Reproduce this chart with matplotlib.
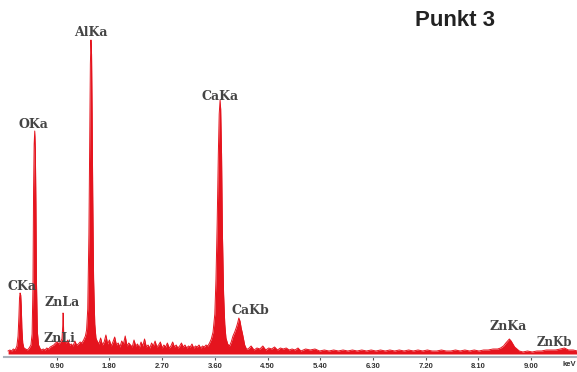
import numpy as np
import matplotlib.pyplot as plt

# EDS spectrum, Punkt 3 -- counts (arbitrary units)
# low energy: C K-alpha and O K-alpha
e_co = [0.07, 0.10, 0.13, 0.16, 0.19, 0.22, 0.24, 0.255, 0.265, 0.275, 0.285, 0.295,
        0.305, 0.32, 0.34, 0.37, 0.40, 0.43, 0.46, 0.48, 0.495, 0.505, 0.515, 0.525,
        0.535, 0.545, 0.555, 0.57, 0.59, 0.62]
n_co = [3, 4, 3, 5, 4, 8, 18, 38, 56, 61, 59, 48,
        26, 11, 6, 5, 4, 6, 9, 20, 70, 165, 210, 223,
        205, 150, 70, 22, 9, 5]

# Zn L lines and background up to Al
e_znl = [0.64, 0.67, 0.70, 0.73, 0.76, 0.79, 0.82, 0.85, 0.88, 0.91, 0.94, 0.97,
         0.99, 1.003, 1.008, 1.013, 1.018, 1.03, 1.06, 1.09, 1.12, 1.15, 1.18, 1.21,
         1.24, 1.27, 1.30, 1.33, 1.36, 1.39]
n_znl = [4, 5, 4, 6, 5, 7, 8, 9, 11, 12, 10, 13,
         15, 28, 41, 40, 22, 13, 11, 14, 9, 10, 8, 13,
         9, 10, 12, 11, 14, 18]

# Al K-alpha
e_al = [1.41, 1.43, 1.45, 1.465, 1.475, 1.485, 1.495, 1.505, 1.515, 1.53, 1.55, 1.57]
n_al = [24, 45, 120, 225, 290, 314, 300, 240, 160, 75, 30, 16]

# background between Al and Ca
e_bg1 = [1.59, 1.62, 1.65, 1.68, 1.71, 1.74, 1.77, 1.80, 1.83, 1.86, 1.89, 1.92,
         1.95, 1.98, 2.01, 2.04, 2.07, 2.10, 2.13, 2.16, 2.19, 2.22, 2.25, 2.28,
         2.31, 2.34, 2.37, 2.40, 2.43, 2.46, 2.49, 2.52, 2.55, 2.58, 2.61, 2.64,
         2.67, 2.70, 2.73, 2.76, 2.79, 2.82, 2.85, 2.88, 2.91, 2.94, 2.97, 3.00,
         3.03, 3.06, 3.09, 3.12, 3.15, 3.18, 3.21, 3.24, 3.27, 3.30, 3.33, 3.36,
         3.39, 3.42, 3.45, 3.48, 3.51, 3.54]
n_bg1 = [13, 10, 16, 9, 12, 19, 10, 14, 8, 12, 17, 9,
         11, 7, 13, 10, 18, 8, 11, 9, 7, 14, 8, 10,
         6, 12, 8, 15, 7, 9, 6, 11, 8, 13, 7, 9,
         12, 6, 9, 7, 11, 6, 8, 12, 7, 9, 6, 8,
         11, 7, 9, 6, 8, 7, 10, 6, 8, 7, 9, 6,
         8, 7, 9, 8, 11, 15]

# Ca K-alpha and K-beta
e_ca = [3.57, 3.60, 3.62, 3.64, 3.66, 3.675, 3.69, 3.70, 3.715, 3.73, 3.75, 3.77,
        3.79, 3.82, 3.85, 3.88, 3.91, 3.94, 3.97, 3.99, 4.01, 4.03, 4.05, 4.07,
        4.09, 4.11, 4.14]
n_ca = [22, 40, 75, 130, 200, 240, 254, 245, 200, 120, 60, 30,
        16, 10, 8, 12, 18, 22, 27, 31, 36, 33, 26, 21,
        15, 9, 5]

# background up to Zn K
e_bg2 = [4.17, 4.22, 4.27, 4.32, 4.37, 4.42, 4.47, 4.52, 4.57, 4.62, 4.67, 4.72,
         4.77, 4.82, 4.87, 4.92, 4.97, 5.02, 5.07, 5.15, 5.23, 5.31, 5.39, 5.47,
         5.55, 5.63, 5.71, 5.79, 5.87, 5.95, 6.03, 6.11, 6.19, 6.27, 6.35, 6.43,
         6.51, 6.59, 6.67, 6.75, 6.83, 6.91, 6.99, 7.07, 7.15, 7.23, 7.31, 7.39,
         7.47, 7.55, 7.63, 7.71, 7.79, 7.87, 7.95, 8.03, 8.11, 8.19, 8.27, 8.35, 8.43]
n_bg2 = [5, 8, 4, 6, 5, 8, 4, 6, 5, 7, 4, 6,
         5, 6, 4, 5, 4, 6, 3, 5, 4, 5, 3, 4,
         3, 4, 3, 4, 3, 4, 3, 4, 3, 4, 3, 4,
         3, 4, 3, 4, 3, 4, 3, 4, 3, 4, 3, 3,
         4, 3, 3, 4, 3, 4, 3, 4, 3, 4, 4, 5, 5]

# Zn K-alpha / K-beta
e_znk = [8.48, 8.53, 8.57, 8.60, 8.63, 8.66, 8.69, 8.72, 8.76, 8.80, 8.86, 8.94,
         9.02, 9.10, 9.18, 9.26, 9.34, 9.42, 9.50, 9.57, 9.64, 9.72, 9.79]
n_znk = [6, 8, 11, 13, 15, 13, 10, 7, 5, 3, 2, 3,
         2, 3, 3, 4, 4, 4, 5, 6, 4, 4, 3]

tick_kev = [0.90, 1.80, 2.70, 3.60, 4.50, 5.40, 6.30, 7.20, 8.10, 9.00]

# (text, energy, counts) for the line labels
line_labels = [("AlKa", 1.486, 321), ("OKa", 0.51, 230), ("CaKa", 3.69, 258),
               ("CKa", 0.31, 67), ("ZnLa", 0.99, 52), ("ZnLi", 0.94, 16),
               ("CaKb", 4.21, 44), ("ZnKa", 8.61, 27)]

energy = np.concatenate([e_co, e_znl, e_al, e_bg1, e_ca, e_bg2, e_znk])
counts = np.concatenate([n_co, n_znl, n_al, n_bg1, n_ca, n_bg2, n_znk])

red = "#e5141e"

fig = plt.figure(figsize=(5.77, 3.72), dpi=100)
ax = fig.add_axes([4 / 577, 12 / 372, 1 - 4 / 577, 360 / 372])

ax.fill_between(energy, 0, counts, color=red, linewidth=0)
ax.plot(energy, counts, color=red, linewidth=0.7)

ax.set_xlim(0, 9.785)
ax.set_ylim(-6, 354)

for s in ["top", "left", "right"]:
    ax.spines[s].set_visible(False)
ax.spines["bottom"].set_position(("data", -3))
ax.spines["bottom"].set_color("#aab3bd")
ax.spines["bottom"].set_linewidth(1.5)
ax.set_yticks([])
ax.set_xticks(tick_kev)
ax.set_xticklabels([f"{t:.2f}" for t in tick_kev])
ax.tick_params(axis="x", direction="out", length=2, width=0.8, color="#555555",
               pad=2.5, labelsize=5.5, labelcolor="#333333")
for lab in ax.get_xticklabels():
    lab.set_fontfamily("Liberation Sans")
    lab.set_fontweight("bold")

ax.text(9.775, -11, "keV", fontsize=5.5, fontweight="bold", family="Liberation Sans",
        color="#333333", ha="right", va="center", clip_on=False)

for txt, e, n in line_labels:
    ax.text(e, n, txt, family="DejaVu Serif", fontsize=9, fontweight="bold",
            color="#444444", ha="center", va="center")
ax.text(9.10, 11, "ZnKb", family="DejaVu Serif", fontsize=8.5, fontweight="bold",
        color="#444444", ha="left", va="center")

fig.text(455 / 577, 1 - 21 / 372, "Punkt 3", family="Liberation Sans", fontsize=16,
         fontweight="bold", color="#222222", ha="center", va="center")

fig.savefig("out.png", dpi=100)
